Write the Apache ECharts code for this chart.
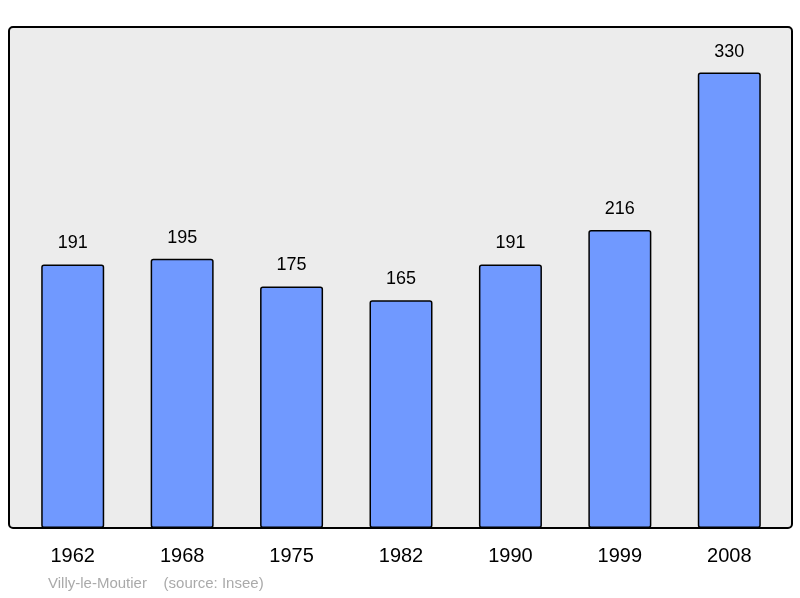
<!DOCTYPE html>
<html><head><meta charset="utf-8">
<script src="https://cdn.jsdelivr.net/npm/echarts@6/dist/echarts.min.js"></script>
<style>html,body{margin:0;padding:0;background:#fff}#main{width:800px;height:598px}</style>
</head><body><div id="main"></div>
<script>
var years = ['1962', '1968', '1975', '1982', '1990', '1999', '2008'];
var population = [191, 195, 175, 165, 191, 216, 330];

var myChart = echarts.init(document.getElementById('main'));
var option = {
    animation: false,
    graphic: [{
        type: 'rect', z: -10,
        shape: {x: 9, y: 27, width: 783, height: 501, r: 4},
        style: {fill: '#ececec', stroke: '#000', lineWidth: 2}
    }, {
        type: 'text', left: 48, top: 576,
        style: {text: 'Villy-le-Moutier    (source: Insee)', fill: '#aaaaaa', font: '15px "Liberation Sans", Arial'}
    }],
    grid: {left: 18, right: 16, top: 27, bottom: 70},
    xAxis: {
        type: 'category', data: years,
        axisLine: {show: false}, axisTick: {show: false},
        axisLabel: {color: '#000', fontSize: 20, fontFamily: 'Liberation Sans', margin: 18}
    },
    yAxis: {type: 'value', min: 0, max: 363, show: false, splitLine: {show: false}},
    series: [{
        type: 'bar', data: population, barWidth: 63,
        itemStyle: {color: '#7099ff', borderColor: '#000', borderWidth: 1.5, borderRadius: 2},
        label: {show: true, position: 'top', distance: 12, color: '#000', fontSize: 18, fontFamily: 'Liberation Sans'}
    }]
};
myChart.setOption(option);
</script></body></html>
